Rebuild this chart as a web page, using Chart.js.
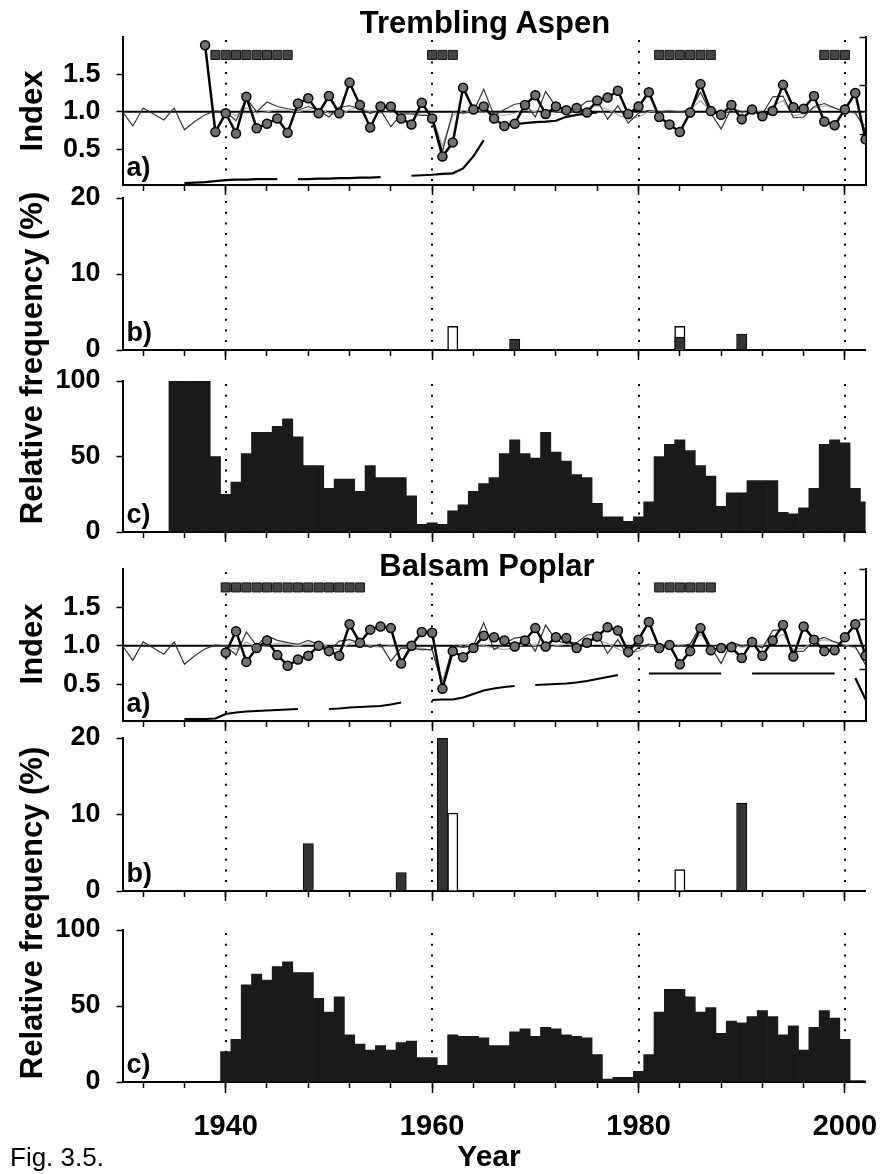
<!DOCTYPE html>
<html>
<head>
<meta charset="utf-8">
<title>Fig. 3.5</title>
<script src="https://cdn.jsdelivr.net/npm/chart.js@4.4.1/dist/chart.umd.min.js"></script>
<style>
  html, body { margin: 0; padding: 0; background: #fff; }
  #page { position: relative; width: 882px; height: 1174px; overflow: hidden; font-family: 'Liberation Sans', Arial, Helvetica, sans-serif; }
  .panel { position: absolute; left: 0; width: 882px; }
  .txt { position: absolute; line-height: 1; white-space: nowrap; color: #000; }
  .title { font-size: 31px; font-weight: bold; transform: translateX(-50%); }
  .rot { font-size: 31px; font-weight: bold; transform: translate(-50%, -50%) rotate(-90deg); }
</style>
</head>
<body>
<div id="page">
  <div class="panel" style="top:17px;height:178px"><canvas id="aspenA"></canvas></div>
  <div class="panel" style="top:178px;height:182px"><canvas id="aspenB"></canvas></div>
  <div class="panel" style="top:361px;height:181px"><canvas id="aspenC"></canvas></div>
  <div class="panel" style="top:549px;height:182px"><canvas id="balsamA"></canvas></div>
  <div class="panel" style="top:718px;height:183px"><canvas id="balsamB"></canvas></div>
  <div class="panel" style="top:910px;height:237px"><canvas id="balsamC"></canvas></div>

  <div class="txt title" style="left:485px;top:7px">Trembling Aspen</div>
  <div class="txt title" style="left:487px;top:550px">Balsam Poplar</div>
  <div class="txt rot" style="left:31px;top:111px">Index</div>
  <div class="txt rot" style="left:31px;top:358px">Relative frequency (%)</div>
  <div class="txt rot" style="left:31px;top:644px">Index</div>
  <div class="txt rot" style="left:31px;top:913px">Relative frequency (%)</div>
  <div class="txt" style="left:489px;top:1141px;font-size:30px;font-weight:bold;transform:translateX(-50%)">Year</div>
  <div class="txt" style="left:10px;top:1144px;font-size:26px">Fig. 3.5.</div>
</div>

<script>
// ---- data ----
const years = [
  1930, 1931, 1932, 1933, 1934, 1935, 1936, 1937, 1938, 1939,
  1940, 1941, 1942, 1943, 1944, 1945, 1946, 1947, 1948, 1949,
  1950, 1951, 1952, 1953, 1954, 1955, 1956, 1957, 1958, 1959,
  1960, 1961, 1962, 1963, 1964, 1965, 1966, 1967, 1968, 1969,
  1970, 1971, 1972, 1973, 1974, 1975, 1976, 1977, 1978, 1979,
  1980, 1981, 1982, 1983, 1984, 1985, 1986, 1987, 1988, 1989,
  1990, 1991, 1992, 1993, 1994, 1995, 1996, 1997, 1998, 1999,
  2000, 2001, 2002
];
const xTickYears = [1932, 1936, 1940, 1944, 1948, 1952, 1956, 1960, 1964, 1968,
                    1972, 1976, 1980, 1984, 1988, 1992, 1996, 2000];
const xLabelYears = [1940, 1960, 1980, 2000];
const dottedYears = [1940, 1960, 1980, 2000];
const indexTicks = [0.5, 1.0, 1.5];
const depthTicks = [1, 2, 3];
const pctTicks = [0, 10, 20];
const histTicks = [0, 50, 100];

// thin reference chronology (same in both species panels)
const thinIndex = [
  1.00, 0.81, 1.05, 0.97, 0.89, 1.05, 0.76, 0.87, 0.96, 1.01,
  1.00, 0.88, 1.18, 1.00, 1.13, 1.07, 1.04, 1.02, 1.07, 1.02,
  0.93, 1.06, 1.08, 1.04, 0.98, 1.02, 0.80, 0.97, 0.97, 0.95,
  0.95, 0.47, 1.00, 0.98, 1.00, 1.30, 0.95, 1.03, 1.10, 1.12,
  0.93, 1.27, 1.07, 1.03, 1.04, 1.14, 1.15, 0.90, 1.08, 0.85,
  0.98, 1.02, 1.00, 1.01, 1.00, 1.02, 1.26, 0.98, 0.77, 1.05,
  1.00, 1.02, 0.97, 1.20, 1.21, 0.92, 0.93, 1.07, 1.11, 1.05,
  1.00, 0.99, 0.75
];
const grayIndex = [
  null, null, null, null, null, null, null, null, null, null,
  1.00, 0.95, 1.05, 0.98, 1.00, 1.03, 1.02, 1.00, 1.03, 1.05,
  0.98, 0.95, 1.03, 1.06, 1.00, 0.98, 1.00, 0.97, 0.98, 0.97,
  0.94, 0.55, 0.95, 1.02, 0.99, 1.00, 0.97, 0.95, 0.98, 1.02,
  1.00, 0.97, 1.00, 1.02, 1.00, 1.05, 1.08, 1.03, 0.96, 0.90,
  0.93, 1.00, 1.01, 1.02, 1.00, 1.03, 1.15, 1.00, 0.98, 1.02,
  0.98, 1.00, 1.00, 1.08, 1.15, 0.95, 0.97, 1.05, 1.08, 1.05,
  1.01, 0.97, 0.80
];

const aspenIndex = [
  null, null, null, null, null, null, null, null, 1.89, 0.73,
  0.98, 0.71, 1.20, 0.78, 0.84, 0.91, 0.72, 1.11, 1.18, 0.98,
  1.21, 0.98, 1.39, 1.09, 0.79, 1.07, 1.07, 0.91, 0.83, 1.12,
  0.91, 0.40, 0.59, 1.32, 1.03, 1.07, 0.91, 0.81, 0.84, 1.09,
  1.22, 0.97, 1.07, 1.02, 1.05, 0.99, 1.15, 1.19, 1.28, 0.97,
  1.07, 1.26, 0.93, 0.83, 0.73, 0.99, 1.37, 1.01, 0.96, 1.09,
  0.90, 1.03, 0.94, 1.01, 1.36, 1.06, 1.04, 1.21, 0.87, 0.82,
  1.03, 1.25, 0.63
];
const balsamIndex = [
  null, null, null, null, null, null, null, null, null, null,
  0.91, 1.19, 0.79, 0.97, 1.07, 0.88, 0.74, 0.82, 0.87, 1.00,
  0.93, 0.87, 1.28, 1.04, 1.21, 1.25, 1.23, 0.77, 1.00, 1.18,
  1.17, 0.44, 0.93, 0.85, 0.97, 1.13, 1.11, 1.07, 0.99, 1.07,
  1.23, 0.99, 1.11, 1.10, 0.97, 1.04, 1.12, 1.24, 1.20, 0.92,
  1.08, 1.31, 0.97, 1.01, 0.76, 0.93, 1.23, 0.94, 0.97, 0.98,
  0.84, 1.05, 0.87, 1.07, 1.27, 0.86, 1.25, 1.08, 0.93, 0.94,
  1.11, 1.28, 0.87
];

// sample depth curves (right axis, unlabelled)
const aspenDepth = [
  null, null, null, null, null, null, 0.00, 0.01, 0.02, 0.04,
  0.06, 0.07, 0.07, 0.08, 0.08, 0.08, null, 0.08, 0.08, 0.09,
  0.09, 0.10, 0.10, 0.11, 0.11, 0.12, null, null, 0.15, 0.16,
  0.17, 0.19, 0.20, 0.30, 0.55, 0.88, null, null, 1.21, 1.23,
  1.25, 1.26, 1.28, 1.36, 1.40, 1.43, 1.45, null, null, null,
  null, null, null, null, null, null, null, null, null, null,
  null, null, null, null, null, null, null, null, null, null,
  null, null, null
];
const balsamDepth = [
  null, null, null, null, null, null, 0.00, 0.00, 0.00, 0.01,
  0.10, 0.13, 0.15, 0.16, 0.17, 0.18, 0.19, 0.20, null, null,
  0.20, 0.21, 0.23, 0.24, 0.25, 0.26, 0.29, 0.33, null, null,
  0.38, 0.39, 0.39, 0.43, 0.50, 0.57, 0.61, 0.64, 0.66, null,
  0.68, 0.69, 0.70, 0.71, 0.73, 0.76, 0.80, 0.84, 0.88, null,
  null, 0.91, 0.91, 0.91, 0.91, 0.91, 0.91, 0.91, 0.91, null,
  null, 0.91, 0.91, 0.91, 0.91, 0.91, 0.91, 0.91, 0.91, 0.91,
  null, 0.82, 0.39
];

// marked years (row of squares)
const aspenSquareYears = [1939, 1940, 1941, 1942, 1943, 1944, 1945, 1946,
                          1960, 1961, 1962, 1982, 1983, 1984, 1985, 1986, 1987,
                          1998, 1999, 2000];
const balsamSquareYears = [1940, 1941, 1942, 1943, 1944, 1945, 1946, 1947, 1948,
                           1949, 1950, 1951, 1952, 1953,
                           1982, 1983, 1984, 1985, 1986, 1987];
const squareLevel = 1.76;
const refLevel = 1.0;

// b) relative frequency (%)
const aspenDarkYears = [1968, 1984, 1990];
const aspenDarkVals = [1.4, 1.7, 2.1];
const aspenOpenYears = [1962, 1984];
const aspenOpenVals = [3.1, 3.1];
const balsamDarkYears = [1948, 1957, 1961, 1990];
const balsamDarkVals = [6.2, 2.4, 20, 11.5];
const balsamOpenYears = [1962, 1984];
const balsamOpenVals = [10.2, 2.8];

// c) relative frequency (%)
const aspenHist = [
  null, null, null, null, null, 100, 100, 100, 100, 50,
  25, 33, 52, 66, 66, 70, 75, 63, 44, 44,
  29, 35, 35, 27, 44, 36, 36, 36, 24, 5,
  6, 5, 14, 18, 27, 32, 36, 52, 61, 52,
  49, 66, 53, 47, 38, 36, 19, 10, 10, 7,
  10, 20, 50, 58, 61, 54, 44, 37, 17, 26,
  26, 34, 34, 34, 13, 12, 16, 29, 58, 61,
  59, 29, 20
];
const balsamHist = [
  null, null, null, null, null, null, null, null, null, null,
  20, 28, 64, 71, 67, 76, 79, 72, 72, 55,
  46, 56, 31, 25, 21, 24, 21, 26, 27, 16,
  16, 11, 31, 30, 30, 29, 24, 24, 33, 35,
  30, 36, 35, 31, 30, 29, 18, 2, 3, 3,
  7, 18, 46, 61, 61, 56, 46, 49, 32, 40,
  39, 43, 47, 43, 31, 37, 21, 36, 47, 42,
  28, 1, 1
];

// ---- chart setup ----
Chart.defaults.font.family = "'Liberation Sans', Arial, Helvetica, sans-serif";
Chart.defaults.font.weight = 'bold';
Chart.defaults.color = '#000';
Chart.defaults.animation = false;

const X_MIN = 1930, X_MAX = 2002;
const LEFT_W = 122.5;   // room for the left axis
const RIGHT_W = 16.4;   // gap to the right edge
const TOP_PAD = 20;

function pts(vals) { return years.map((yr, i) => ({x: yr, y: vals[i]})); }
function lookup(yrs, vals) {
  return years.map(yr => {
    const i = yrs.indexOf(yr);
    return {x: yr, y: i < 0 ? null : vals[i]};
  });
}

// dotted year lines and the panel letter
const deco = {
  id: 'deco',
  beforeDatasetsDraw(chart) {
    const {ctx, chartArea: a, scales: {x}} = chart;
    ctx.save();
    ctx.strokeStyle = '#000';
    ctx.lineWidth = 2;
    ctx.setLineDash([2, 8.7]);
    dottedYears.forEach(yr => {
      const px = Math.round(x.getPixelForValue(yr));
      ctx.beginPath();
      ctx.moveTo(px, a.top + 3);
      ctx.lineTo(px, a.bottom);
      ctx.stroke();
    });
    ctx.restore();
  },
  afterDatasetsDraw(chart, args, opts) {
    if (!opts.letter) return;
    const {ctx, chartArea: a} = chart;
    ctx.save();
    ctx.font = "bold 27px 'Liberation Sans', Arial, sans-serif";
    ctx.fillStyle = '#000';
    ctx.textBaseline = 'alphabetic';
    ctx.fillText(opts.letter, a.left + 4, a.bottom - 9);
    ctx.restore();
  }
};

function xScales(showLabels) {
  return {
    x: {
      type: 'linear', position: 'bottom', min: X_MIN, max: X_MAX, offset: false, weight: 0,
      afterBuildTicks: s => { s.ticks = xTickYears.map(v => ({value: v})); },
      afterFit: s => { s.height = 0; s.paddingLeft = 0; s.paddingRight = 0; },
      ticks: {display: false, autoSkip: false},
      grid: {drawOnChartArea: false, drawTicks: true, tickLength: 6, tickWidth: 1.5, tickColor: '#000', offset: false},
      border: {display: true, color: '#000', width: 2}
    },
    xMajor: {
      type: 'linear', position: 'bottom', min: X_MIN, max: X_MAX, offset: false, weight: 1,
      afterBuildTicks: s => { s.ticks = xLabelYears.map(v => ({value: v})); },
      afterFit: s => { s.height = showLabels ? 65 : 10; s.paddingLeft = 0; s.paddingRight = 0; },
      ticks: {display: showLabels, autoSkip: false, maxRotation: 0, padding: 17,
              font: {size: 29, weight: 'bold'}, callback: v => String(v)},
      grid: {drawOnChartArea: false, drawTicks: true, tickLength: 11, tickWidth: 1.5, tickColor: '#000', offset: false},
      border: {display: false}
    }
  };
}

function yLeft(min, max, tickVals, fmt) {
  return {
    type: 'linear', position: 'left', min, max,
    afterBuildTicks: s => { s.ticks = tickVals.map(v => ({value: v})); },
    afterFit: s => { s.width = LEFT_W; s.paddingTop = 0; s.paddingBottom = 0; },
    ticks: {padding: 16, font: {size: 27, weight: 'bold'}, callback: fmt},
    grid: {drawOnChartArea: false, drawTicks: true, tickLength: 6, tickWidth: 1.5, tickColor: '#000'},
    border: {display: true, color: '#000', width: 2}
  };
}

function yDepth() {
  return {
    type: 'linear', position: 'right', min: -0.04, max: 3.0,
    afterBuildTicks: s => { s.ticks = depthTicks.map(v => ({value: v})); },
    afterFit: s => { s.width = RIGHT_W; s.paddingTop = 0; s.paddingBottom = 0; },
    ticks: {display: false},
    grid: {drawOnChartArea: false, drawTicks: true, tickLength: -6, tickWidth: 1.5, tickColor: '#000'},
    border: {display: true, color: '#000', width: 2}
  };
}

function baseOptions(scales, letter, rightPad) {
  return {
    responsive: true,
    maintainAspectRatio: false,
    animation: false,
    events: [],
    layout: {padding: {top: TOP_PAD, left: 0, right: rightPad, bottom: 0}},
    plugins: {legend: {display: false}, tooltip: {enabled: false}, deco: {letter}},
    scales
  };
}

function indexPanel(id, ringVals, depthVals, squareYears) {
  const datasets = [
    {data: squareYears.map(yr => ({x: yr, y: squareLevel})), showLine: false,
     pointStyle: 'rect', pointRadius: 6.4, pointBackgroundColor: '#454545',
     pointBorderColor: '#111', pointBorderWidth: 1},
    {data: pts(ringVals), borderColor: '#000', borderWidth: 2.5, pointRadius: 4.5,
     pointBackgroundColor: '#707070', pointBorderColor: '#000', pointBorderWidth: 1.5},
    {data: pts(thinIndex), borderColor: '#333', borderWidth: 1.2, pointRadius: 0},
    {data: pts(grayIndex), borderColor: '#aaa', borderWidth: 1.2, pointRadius: 0},
    {data: [{x: X_MIN, y: refLevel}, {x: X_MAX, y: refLevel}], borderColor: '#000', borderWidth: 2, pointRadius: 0},
    {data: pts(depthVals), borderColor: '#000', borderWidth: 2.2, pointRadius: 0, yAxisID: 'yDepth'}
  ];
  const scales = Object.assign(xScales(false), {
    y: yLeft(0.02, 2.0, indexTicks, v => v.toFixed(1)),
    yDepth: yDepth()
  });
  new Chart(document.getElementById(id), {
    type: 'line',
    data: {datasets},
    options: baseOptions(scales, 'a)', 0),
    plugins: [deco]
  });
}

const barStyle = {grouped: false, barPercentage: 1, categoryPercentage: 1};

function eventPanel(id, darkYears, darkVals, openYears, openVals) {
  const datasets = [
    Object.assign({data: lookup(darkYears, darkVals), backgroundColor: '#333',
                   borderColor: '#000', borderWidth: 1}, barStyle),
    Object.assign({data: lookup(openYears, openVals), backgroundColor: '#fff',
                   borderColor: '#000', borderWidth: 1.5}, barStyle)
  ];
  const scales = Object.assign(xScales(false), {y: yLeft(0, 20, pctTicks, v => String(v))});
  new Chart(document.getElementById(id), {
    type: 'bar',
    data: {datasets},
    options: baseOptions(scales, 'b)', RIGHT_W),
    plugins: [deco]
  });
}

function histPanel(id, vals, showLabels) {
  const datasets = [
    Object.assign({data: pts(vals), backgroundColor: '#1a1a1a', borderWidth: 0}, barStyle)
  ];
  const scales = Object.assign(xScales(showLabels), {y: yLeft(0, 100, histTicks, v => String(v))});
  new Chart(document.getElementById(id), {
    type: 'bar',
    data: {datasets},
    options: baseOptions(scales, 'c)', RIGHT_W),
    plugins: [deco]
  });
}

indexPanel('aspenA', aspenIndex, aspenDepth, aspenSquareYears);
eventPanel('aspenB', aspenDarkYears, aspenDarkVals, aspenOpenYears, aspenOpenVals);
histPanel('aspenC', aspenHist, false);
indexPanel('balsamA', balsamIndex, balsamDepth, balsamSquareYears);
eventPanel('balsamB', balsamDarkYears, balsamDarkVals, balsamOpenYears, balsamOpenVals);
histPanel('balsamC', balsamHist, true);
</script>
</body>
</html>
